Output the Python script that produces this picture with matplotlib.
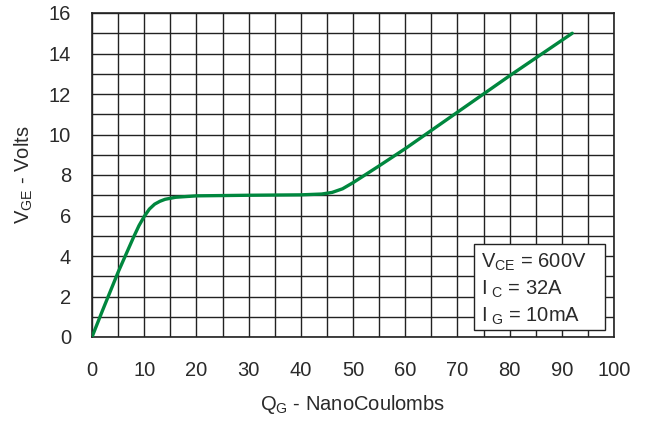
import matplotlib
matplotlib.use("Agg")
import matplotlib.pyplot as plt
from matplotlib.patches import Rectangle
import numpy as np

# gate charge curve
qg = [0, 2, 5, 8, 9, 10, 11, 12, 13, 14, 16, 20, 30, 40, 44, 46, 48, 50, 55, 60, 70, 80, 92]
vge = [0, 1.3, 3.2, 4.95, 5.5, 5.95, 6.32, 6.56, 6.7, 6.8, 6.9, 6.97, 7.0, 7.02, 7.06,
       7.14, 7.32, 7.62, 8.45, 9.3, 11.1, 12.9, 15.0]

x_ticks = list(range(0, 101, 10))
y_ticks = list(range(0, 17, 2))
box_lines = [r"$\mathregular{V_{CE}}$ = 600V", r"$\mathregular{I_{\ C}}$ = 32A",
             r"$\mathregular{I_{\ G}}$ = 10mA"]

plt.rcParams['font.family'] = ['Liberation Sans', 'DejaVu Sans']

fig = plt.figure(figsize=(6.52, 4.21), dpi=100)
ax = fig.add_axes([92 / 652, 84 / 421, 522 / 652, 324 / 421])

# grid: every 5 nC, every 1 V
for xv in np.arange(0, 101, 5):
    ax.axvline(xv, color='#222222', lw=1.0, zorder=1)
for yv in np.arange(0, 17, 1):
    ax.axhline(yv, color='#222222', lw=1.0, zorder=1)

ax.plot(qg, vge, color='#00873e', lw=2.4, zorder=3, solid_capstyle='round')

ax.set_xlim(0, 100)
ax.set_ylim(0, 16)
ax.set_xticks(x_ticks)
ax.set_yticks(y_ticks)
ax.tick_params(length=0, labelsize=14.5, colors='#2a2a2a')
ax.tick_params(axis='x', pad=17)
ax.tick_params(axis='y', pad=15)
for s in ax.spines.values():
    s.set_color('#222222')
    s.set_linewidth(1.2)

ax.set_xlabel(r"$\mathregular{Q_G}$ - NanoCoulombs", fontsize=14.5, color='#2a2a2a', labelpad=10)
ax.set_ylabel(r"$\mathregular{V_{GE}}$ - Volts", fontsize=14.5, color='#2a2a2a', labelpad=10)

# conditions box
ax.add_patch(Rectangle((73.2, 0.35), 25.1, 4.25, fc='white', ec='#222222', lw=1.0, zorder=5))
for i, line in enumerate(box_lines):
    ax.text(74.6, 3.7 - i * 1.33, line, fontsize=14.5, color='#2a2a2a',
            va='center', ha='left', zorder=6)

fig.savefig("out.png", dpi=100)
